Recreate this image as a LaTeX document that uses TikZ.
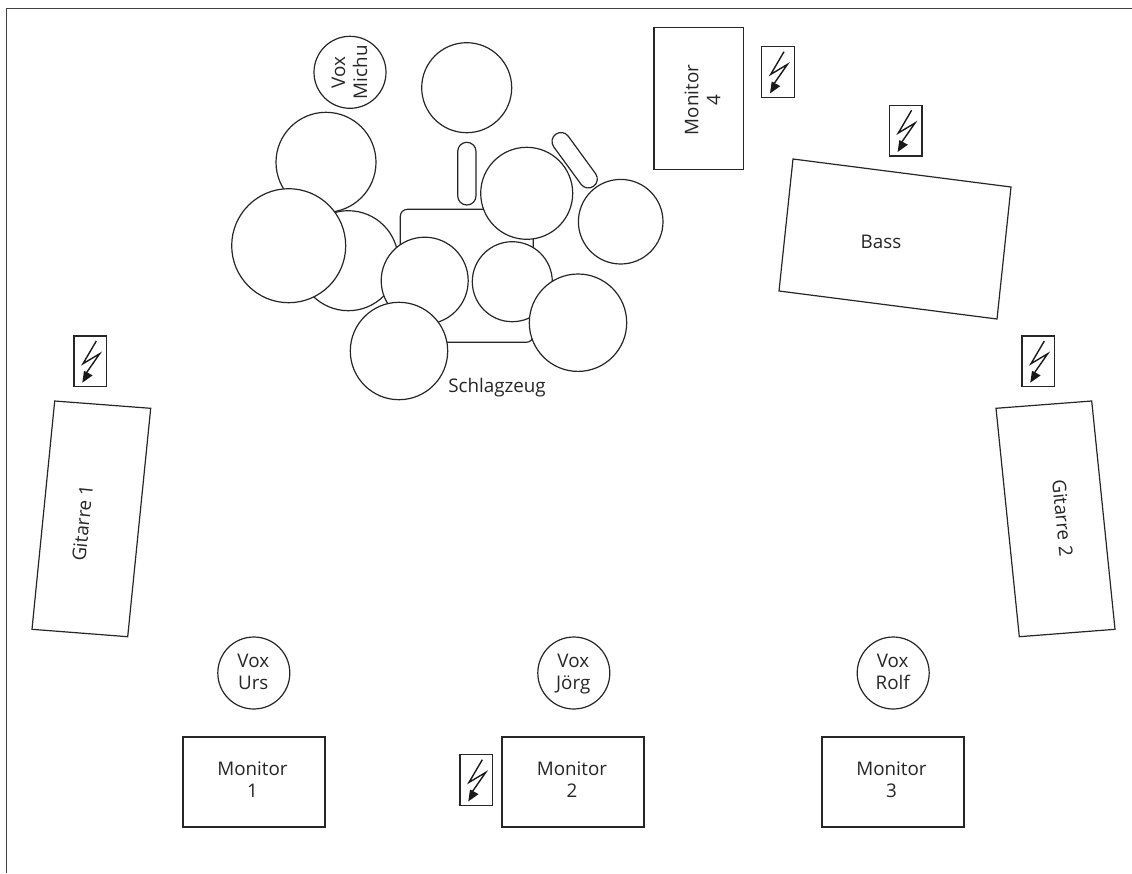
\documentclass[tikz,border=0pt]{standalone}
\usepackage{fontspec}
\setmainfont{Open Sans}
\newcommand{\twoline}[2]{\strut #1\\\strut #2}
\tikzset{
  line/.style={draw=black!85,line width=1.2pt,line join=miter},
  drum/.style={line,fill=white,circle,inner sep=0pt,outer sep=0pt},
  box/.style={line,line width=1.4pt,fill=white,rectangle,inner sep=0pt,outer sep=0pt},
  lbl/.style={inner sep=0pt,align=center,font=\fontsize{18.8}{22}\selectfont,text=black!85},
  plugbox/.style={draw=black!85,line width=1.2pt,fill=white,rectangle,inner sep=0pt,outer sep=0pt,minimum width=32.6pt,minimum height=50.6pt},
  pics/plug/.style={code={
    \node[plugbox,anchor=north west] (-b) at (0,0) {};
    \draw[black!90,line width=1.4pt,line join=miter] (22.3,5) -- (9,27.7) -- (25.7,17.7) -- (12.3,37);
    \fill[black!90] (8.3,46.7) -- (10,34.8) -- (18.6,39.4) -- cycle;
  }}
}
\begin{document}
\begin{tikzpicture}[x=1pt,y=-1pt]
\useasboundingbox (0,0) rectangle (1132,873);
\fill[white] (0,0) rectangle (1132,873);
% frame
\coordinate (fa) at (6,873); \coordinate (fb) at (6,8); \coordinate (fc) at (1132,8);
\draw[black!75,line width=1pt] (fa) -- (fb) -- (fc);
% drum kit
\draw[line,fill=white,rounded corners=7pt] (400.3,209.3) rectangle (533.3,342.3);
\node[drum,minimum size=72pt] (voxm) at (350,72.3) {};
\node[lbl,rotate=90] at (351.6,72.3) {\twoline{Vox}{Michu}};
\node[drum,minimum size=90pt] (d1) at (466.7,87.7) {};
\node[drum,minimum size=100pt] (d2) at (326,162.3) {};
\node[drum,minimum size=100pt] (d3) at (348.3,260.7) {};
\node[drum,minimum size=114pt] (d4) at (288.7,245.7) {};
\draw[line,fill=white,rounded corners=9.1pt] (457.7,142.3) rectangle (476,205);
\draw[line,fill=white]
  (553.7,146.8) arc[start angle=216,end angle=36,x radius=9,y radius=-9] -- (595.6,173.7) arc[start angle=36,end angle=-144,x radius=9,y radius=-9] -- cycle;
\node[drum,minimum size=92pt] (d5) at (526.7,193.3) {};
\node[drum,minimum size=84.6pt] (d6) at (620.7,221.7) {};
\node[drum,minimum size=87pt] (d7) at (424.7,280.7) {};
\node[drum,minimum size=80pt] (d8) at (512.3,281.7) {};
\node[drum,minimum size=97.4pt] (d9) at (578,322.7) {};
\node[drum,minimum size=97.4pt] (d10) at (399,351) {};
\node[lbl] (schlag) at (497,388) {Schlagzeug};
% amps
\node[box,minimum width=89.5pt,minimum height=142pt] (m4) at (698.6,98.3) {};
\node[lbl,rotate=90] at (704.9,100) {\twoline{Monitor}{4}};
\draw[line,fill=white] (793,159) -- (1011,187) -- (997,319) -- (779,291) -- cycle;
\node[lbl] (bass) at (881,242) {Bass};
\draw[line,fill=white] (54.7,401) -- (150.7,408.3) -- (127.7,636.7) -- (32,629.3) -- cycle;
\node[lbl,rotate=84.3] (g1) at (82.5,523) {Gitarre 1};
\draw[line,fill=white] (996,408.3) -- (1091.7,401) -- (1115,629.3) -- (1019.3,636.7) -- cycle;
\node[lbl,rotate=-84.2] (g2) at (1062.7,518) {Gitarre 2};
% vocal mics
\node[drum,minimum size=72pt] (vu) at (253.8,673) {};
\node[lbl] at (253.3,674.5) {\twoline{Vox}{Urs}};
\node[drum,minimum size=72pt] (vj) at (573.8,673) {};
\node[lbl] at (573.3,674.5) {\twoline{Vox}{Jörg}};
\node[drum,minimum size=72pt] (vr) at (893.2,673) {};
\node[lbl] at (892.7,674.5) {\twoline{Vox}{Rolf}};
% monitors
\node[box,minimum width=142pt,minimum height=90pt] (m1) at (254,782) {};
\node[lbl] at (252.5,781.6) {\twoline{Monitor}{1}};
\node[box,minimum width=142pt,minimum height=90pt] (m2) at (573,782) {};
\node[lbl] at (572,781.6) {\twoline{Monitor}{2}};
\node[box,minimum width=142pt,minimum height=90pt] (m3) at (893,782) {};
\node[lbl] at (891.5,781.6) {\twoline{Monitor}{3}};
% power
\pic (p1) at (761.7,46.7) {plug};
\pic (p2) at (889.3,105.3) {plug};
\pic (p3) at (74,336) {plug};
\pic (p4) at (1022,336) {plug};
\pic (p5) at (460,754.7) {plug};
\end{tikzpicture}
\end{document}
